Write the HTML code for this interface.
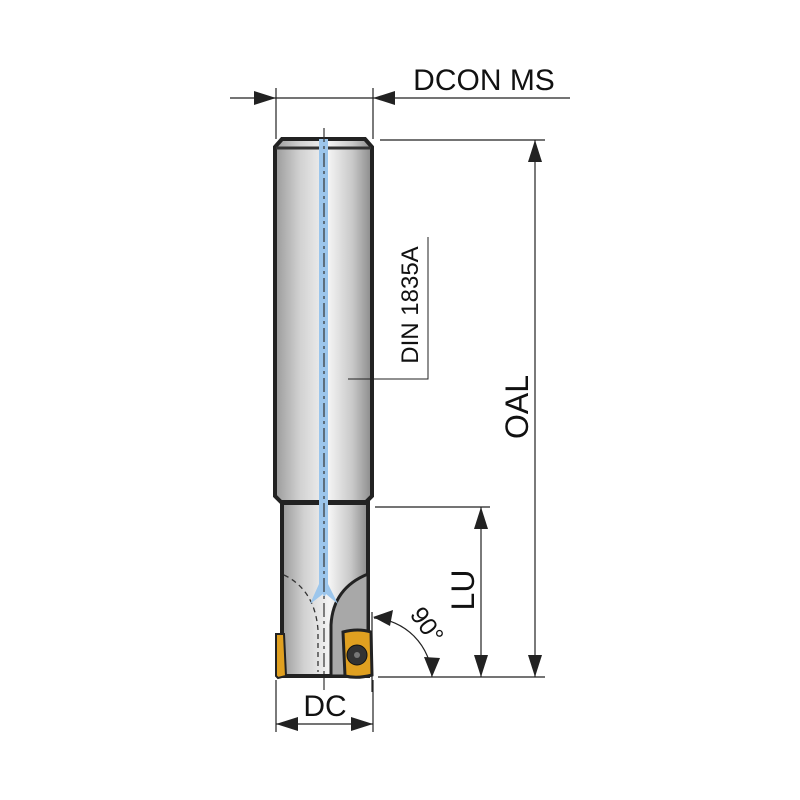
<!DOCTYPE html>
<html><head><meta charset="utf-8"><style>html,body{margin:0;padding:0;background:#fff}svg{display:block}</style></head>
<body>
<svg width="800" height="800" viewBox="0 0 800 800" xmlns="http://www.w3.org/2000/svg" font-family="Liberation Sans, Arial, sans-serif">
<defs>
<linearGradient id="g" x1="0" x2="1" y1="0" y2="0">
<stop offset="0" stop-color="#9a9a9a"/><stop offset="0.25" stop-color="#d0d0d0"/><stop offset="0.55" stop-color="#f4f4f4"/><stop offset="0.8" stop-color="#c8c8c8"/><stop offset="1" stop-color="#8a8a8a"/>
</linearGradient>
</defs>
<!-- shank -->
<path d="M275,147 L282,139 L365,139 L372,147 L372,496 L366,502 L281,502 L275,496 Z" fill="url(#g)" stroke="#222" stroke-width="4"/>
<line x1="276" y1="148" x2="371" y2="148" stroke="#333" stroke-width="3"/>
<!-- neck -->
<path d="M282,503 L368,503 L368,676 L282,676 Z" fill="url(#g)" stroke="#222" stroke-width="4"/>
<!-- chip pocket -->
<path d="M368,574 Q333,588 331,625 L331,676 L368,676 Z" fill="#a8a8a8" stroke="#222" stroke-width="3"/>
<!-- inserts -->
<path d="M343,632 Q358,628 371,632 L372,675 Q357,679 345,676 Z" fill="#e0a020" stroke="#222" stroke-width="3"/>
<circle cx="357" cy="655" r="10" fill="#333" stroke="#111"/>
<circle cx="357" cy="655" r="3" fill="#777"/>
<path d="M276,634 L284,634 L286,676 L278,678 L276,676 Z" fill="#e0a020" stroke="#222" stroke-width="2"/>
<!-- dashed curve -->
<path d="M284,575 Q315,590 318,630 L318,672" fill="none" stroke="#333" stroke-width="1.3" stroke-dasharray="5,4"/>
<!-- coolant channel -->
<rect x="319" y="139" width="9" height="445" fill="#9cc6ec"/>
<path d="M319,584 L310,604 L323,594 L324,598 L326,594 L338,604 L328,584 Z" fill="#9cc6ec"/>
<line x1="324" y1="128" x2="324" y2="690" stroke="#333" stroke-width="1.2" stroke-dasharray="14,4,3,4"/>
<!-- DCON MS -->
<line x1="276" y1="88" x2="276" y2="139" stroke="#222" stroke-width="1.2"/>
<line x1="373" y1="88" x2="373" y2="139" stroke="#222" stroke-width="1.2"/>
<line x1="230" y1="98" x2="570" y2="98" stroke="#222" stroke-width="1.2"/>
<path d="M276,98 L254,91 L254,105 Z" fill="#222"/>
<path d="M373,98 L395,91 L395,105 Z" fill="#222"/>
<text x="484" y="90" font-size="30" text-anchor="middle" fill="#111">DCON MS</text>
<!-- OAL -->
<line x1="380" y1="140" x2="545" y2="140" stroke="#222" stroke-width="1.2"/>
<line x1="378" y1="677" x2="545" y2="677" stroke="#222" stroke-width="1.2"/>
<line x1="535" y1="140" x2="535" y2="677" stroke="#222" stroke-width="1.2"/>
<path d="M535,140 L528,162 L542,162 Z" fill="#222"/>
<path d="M535,677 L528,655 L542,655 Z" fill="#222"/>
<text transform="translate(528,407) rotate(-90)" font-size="32" text-anchor="middle" fill="#111">OAL</text>
<!-- LU -->
<line x1="375" y1="507" x2="490" y2="507" stroke="#222" stroke-width="1.2"/>
<line x1="481" y1="507" x2="481" y2="677" stroke="#222" stroke-width="1.2"/>
<path d="M481,507 L474,529 L488,529 Z" fill="#222"/>
<path d="M481,677 L474,655 L488,655 Z" fill="#222"/>
<text transform="translate(474,590) rotate(-90)" font-size="32" text-anchor="middle" fill="#111">LU</text>
<!-- 90 deg -->
<line x1="372" y1="612" x2="372" y2="692" stroke="#222" stroke-width="1.2"/>
<path d="M374,618 A62,62 0 0 1 432,677" fill="none" stroke="#222" stroke-width="1.2"/>
<path d="M373,617 L393,610 L390,626 Z" fill="#222"/>
<path d="M432,677 L424,657 L440,658 Z" fill="#222"/>
<text transform="translate(420,630) rotate(55)" font-size="25" text-anchor="middle" fill="#111">90°</text>
<!-- DC -->
<line x1="276" y1="680" x2="276" y2="732" stroke="#222" stroke-width="1.2"/>
<line x1="373" y1="680" x2="373" y2="732" stroke="#222" stroke-width="1.2"/>
<line x1="276" y1="724" x2="373" y2="724" stroke="#222" stroke-width="1.2"/>
<path d="M276,724 L298,717 L298,731 Z" fill="#222"/>
<path d="M373,724 L351,717 L351,731 Z" fill="#222"/>
<text x="325" y="716" font-size="30" text-anchor="middle" fill="#111">DC</text>
<!-- DIN leader -->
<polyline points="348,379 428,379 428,237" fill="none" stroke="#222" stroke-width="1"/>
<text transform="translate(418,305) rotate(-90)" font-size="24" text-anchor="middle" fill="#111">DIN 1835A</text>
</svg>
</body></html>
